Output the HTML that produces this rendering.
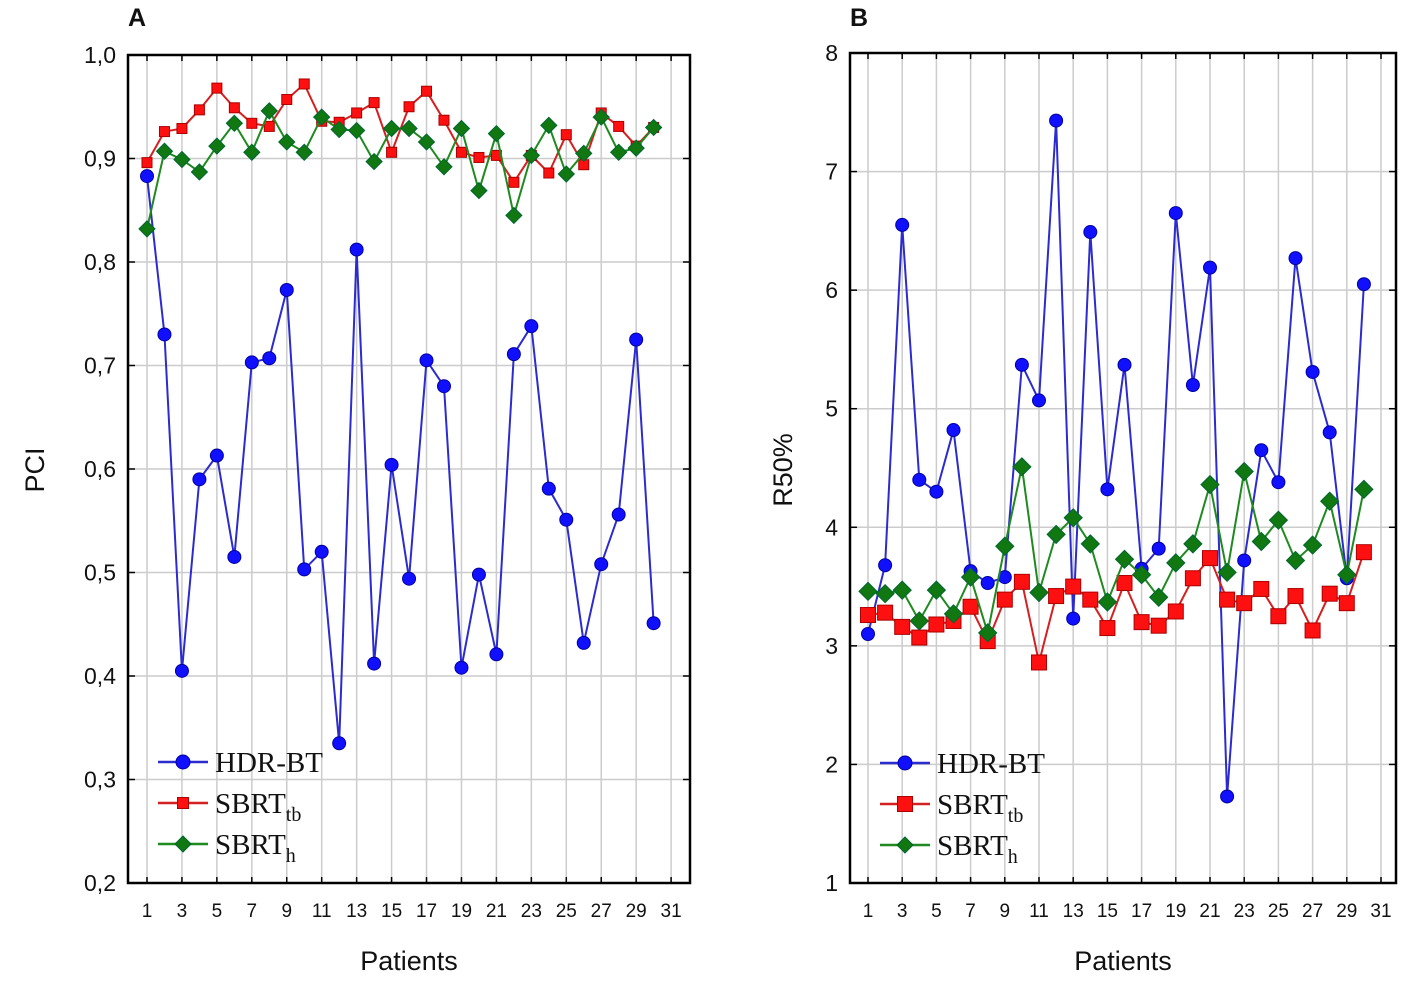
<!DOCTYPE html>
<html><head><meta charset="utf-8"><style>
body{margin:0;background:#fff}
svg text{font-family:"Liberation Sans",Arial,sans-serif;fill:#111}
.lg{font-family:"Liberation Serif",serif;font-size:29px}
</style></head><body>
<svg id="c" width="1417" height="999" viewBox="0 0 1417 999"></svg>
<script>
const patients=[1,2,3,4,5,6,7,8,9,10,11,12,13,14,15,16,17,18,19,20,21,22,23,24,25,26,27,28,29,30];
const xTickLabels=[1,3,5,7,9,11,13,15,17,19,21,23,25,27,29,31];
const aHdr=[0.883,0.73,0.405,0.59,0.613,0.515,0.703,0.707,0.773,0.503,0.52,0.335,0.812,0.412,0.604,0.494,0.705,0.68,0.408,0.498,0.421,0.711,0.738,0.581,0.551,0.432,0.508,0.556,0.725,0.451];
const aTb=[0.896,0.926,0.929,0.947,0.968,0.949,0.934,0.931,0.957,0.972,0.936,0.935,0.944,0.954,0.906,0.95,0.965,0.937,0.906,0.901,0.903,0.877,0.903,0.886,0.923,0.894,0.944,0.931,0.912,0.93];
const aH=[0.832,0.907,0.899,0.887,0.912,0.934,0.906,0.946,0.916,0.906,0.94,0.928,0.927,0.897,0.929,0.929,0.916,0.892,0.929,0.869,0.924,0.845,0.903,0.932,0.885,0.905,0.94,0.906,0.91,0.93];
const aYTicks=["0,2","0,3","0,4","0,5","0,6","0,7","0,8","0,9","1,0"];
const bHdr=[3.1,3.68,6.55,4.4,4.3,4.82,3.63,3.53,3.58,5.37,5.07,7.43,3.23,6.49,4.32,5.37,3.65,3.82,6.65,5.2,6.19,1.73,3.72,4.65,4.38,6.27,5.31,4.8,3.57,6.05];
const bTb=[3.26,3.28,3.16,3.07,3.18,3.21,3.33,3.04,3.39,3.54,2.86,3.42,3.5,3.39,3.15,3.53,3.2,3.17,3.29,3.57,3.74,3.39,3.36,3.48,3.25,3.42,3.13,3.44,3.36,3.79];
const bH=[3.46,3.44,3.47,3.21,3.47,3.27,3.58,3.11,3.84,4.51,3.45,3.94,4.08,3.86,3.37,3.73,3.6,3.41,3.7,3.86,4.36,3.62,4.47,3.88,4.06,3.72,3.85,4.22,3.6,4.32];
const bYTicks=["1","2","3","4","5","6","7","8"];

const NS="http://www.w3.org/2000/svg";
const svg=document.getElementById('c');
function el(t,a,p){const e=document.createElementNS(NS,t);for(const k in a)e.setAttribute(k,a[k]);(p||svg).appendChild(e);return e;}

function panel(o){
  const g=el('g',{});
  
  
  const X=v=>o.x1+(v-1)*o.dx;
  const Y=v=>o.yBot-(v-o.yMin)/(o.yMax-o.yMin)*(o.yBot-o.yTop);
  // grid
  xTickLabels.forEach(t=>{
    const l=el('line',{x1:X(t),x2:X(t),y1:o.yTop,y2:o.yBot,stroke:'#ccc','stroke-width':1.5},g);
    
    el('line',{x1:X(t),x2:X(t),y1:o.yBot,y2:o.yBot-6,stroke:'#000','stroke-width':1.5},g);
    el('line',{x1:X(t),x2:X(t),y1:o.yTop,y2:o.yTop+6,stroke:'#000','stroke-width':1.5},g);
    const tx=el('text',{x:X(t),y:o.yBot+34,'text-anchor':'middle','font-size':19},g);tx.textContent=t;
    
  });
  o.yTicks.forEach((lab,i)=>{
    const v=o.yMin+i*o.yStep,y=Y(v);
    const l=el('line',{x1:o.left,x2:o.right,y1:y,y2:y,stroke:'#ccc','stroke-width':1.5},g);
    
    el('line',{x1:o.left,x2:o.left+7,y1:y,y2:y,stroke:'#000','stroke-width':1.5},g);
    el('line',{x1:o.right,x2:o.right-7,y1:y,y2:y,stroke:'#000','stroke-width':1.5},g);
    const tx=el('text',{x:o.left-12,y:y+8,'text-anchor':'end','font-size':23},g);tx.textContent=lab;
    
  });
  const fr=el('rect',{x:o.left,y:o.yTop,width:o.right-o.left,height:o.yBot-o.yTop,fill:'none',stroke:'#000','stroke-width':2.5},g);
  
  const series=[
    {d:o.hdr,c:'#2b2bd0',f:'#1010ff',m:'circle',n:'hdr-bt-series'},
    {d:o.tb,c:'#d42020',f:'#ff1010',m:'square',n:'sbrt-tb-series'},
    {d:o.h,c:'#1f8a1f',f:'#117711',m:'diamond',n:'sbrt-h-series'}];
  const mk=(m,x,y,f,p,s)=>{
    if(m==='circle')return el('circle',{cx:x,cy:y,r:s.r,fill:f,stroke:'#0000a0','stroke-width':1},p);
    if(m==='square')return el('rect',{x:x-s.sq/2,y:y-s.sq/2,width:s.sq,height:s.sq,fill:f,stroke:'#a00','stroke-width':1},p);
    return el('polygon',{points:`${x},${y-s.dm} ${x+s.dm},${y} ${x},${y+s.dm} ${x-s.dm},${y}`,fill:f,stroke:'#063','stroke-width':1},p);
  };
  series.forEach(s=>{
    const sg=el('g',{},g);
    
    el('polyline',{points:patients.map((p,i)=>X(p)+','+Y(s.d[i])).join(' '),fill:'none',stroke:s.c,'stroke-width':2},sg);
    patients.forEach((p,i)=>{const m=mk(s.m,X(p),Y(s.d[i]),s.f,sg,o.ms);
      });
  });
  // legend
  const lg=el('g',{},g);
  const labs=[['HDR-BT',''],['SBRT','tb'],['SBRT','h']];
  series.forEach((s,i)=>{
    const y=o.lgY+i*41;
    const e=el('g',{},lg);
    el('line',{x1:o.lgX,x2:o.lgX+50,y1:y,y2:y,stroke:s.c,'stroke-width':2.5},e);
    mk(s.m,o.lgX+25,y,s.f,e,o.lms);
    const t=el('text',{x:o.lgX+57,y:y+10,class:'lg'},e);
    const t1=el('tspan',{},t);t1.textContent=labs[i][0];
    if(labs[i][1]){const t2=el('tspan',{dy:8,'font-size':20},t);t2.textContent=labs[i][1];}
  });
  const xt=el('text',{x:(o.left+o.right)/2,y:970,'text-anchor':'middle','font-size':27},g);xt.textContent='Patients';
  
  const yt=el('text',{x:0,y:0,'text-anchor':'middle','font-size':27,transform:`translate(${o.ytX},470) rotate(-90)`},g);yt.textContent=o.ytitle;
  
  const pl=el('text',{x:o.plX,y:26,'font-size':25,'font-weight':'bold'},g);pl.textContent=o.letter;
  
}
panel({name:'panel-a-pci',left:128,right:690,yTop:55,yBot:883,x1:147,dx:17.47,yMin:0.2,yMax:1.0,yStep:0.1,yTicks:aYTicks,
  hdr:aHdr,tb:aTb,h:aH,ms:{r:6.5,sq:10,dm:8},lms:{r:7,sq:11,dm:8},lgX:158,lgY:762,ytitle:'PCI',ytX:44,plX:128,letter:'A'});
panel({name:'panel-b-r50',left:850,right:1396,yTop:53,yBot:883,x1:868,dx:17.1,yMin:1,yMax:8,yStep:1,yTicks:bYTicks,
  hdr:bHdr,tb:bTb,h:bH,ms:{r:6.5,sq:15,dm:9},lms:{r:7,sq:15,dm:8},lgX:880,lgY:763,ytitle:'R50%',ytX:792,plX:850,letter:'B'});
</script>
</body></html>
